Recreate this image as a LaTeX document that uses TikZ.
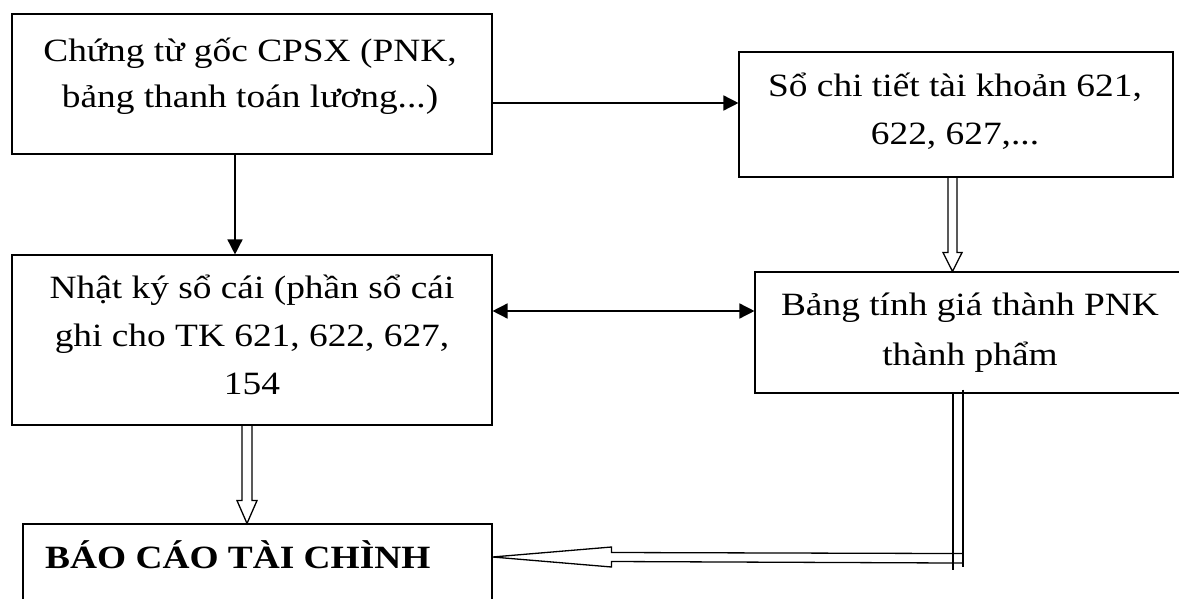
\documentclass[tikz,border=0pt]{standalone}
\usepackage{fontspec}
\setmainfont[FakeStretch=1.15]{Liberation Serif}
\usetikzlibrary{arrows.meta,calc}

\begin{document}
\begin{tikzpicture}[x=1pt,y=-1pt,
  box/.style={draw,line width=1.1pt,inner sep=0pt},
  txt/.style={anchor=base,inner sep=0pt,font=\fontsize{32.5}{40}\selectfont},
  tip/.style={Triangle[length=15pt,width=15pt]},
  arr/.style={line width=1.5pt,-{Triangle[length=15pt,width=15pt]}},
  arrboth/.style={line width=1.5pt,{Triangle[length=15pt,width=15pt]}-{Triangle[length=15pt,width=15pt]}},
  hollow/.style={line width=1.3pt,line join=miter}]
\useasboundingbox (0,0) rectangle (1179,599);
\clip (0,0) rectangle (1179,599);

% boxes
\node[box,minimum width=480pt,minimum height=140pt] (b1) at (252,84) {};
\node[box,minimum width=434pt,minimum height=125pt] (b2) at (956,114.5) {};
\node[box,minimum width=440pt,minimum height=121pt] (b3) at (975,332.5) {};
\node[box,minimum width=480pt,minimum height=170pt] (b4) at (252,340) {};
\node[box,minimum width=469pt,minimum height=116pt] (b5) at (257.5,582) {};

% texts
\node[txt] (t1a) at (250,62) {Chứng từ gốc CPSX (PNK,};
\node[txt] (t1b) at (250,108) {bảng thanh toán lương...)};
\node[txt] (t2a) at (955,97) {Sổ chi tiết tài khoản 621,};
\node[txt] (t2b) at (955,145) {622, 627,...};
\node[txt] (t3a) at (970,315) {Bảng tính giá thành PNK};
\node[txt] (t3b) at (970,365) {thành phẩm};
\node[txt] (t4a) at (252,298) {Nhật ký sổ cái (phần sổ cái};
\node[txt] (t4b) at (252,346) {ghi cho TK 621, 622, 627,};
\node[txt] (t4c) at (252,394) {154};
\node[txt,anchor=base west] (t5) at (45,568) {\textbf{BÁO CÁO TÀI CHÌNH}};

% plain arrows
\draw[arr] ([yshift=-19pt]b1.east) coordinate (p) -- (p -| b2.west);
\draw[arr] ([xshift=-17pt]b1.south) coordinate (r) -- (r |- b4.north);
\draw[arrboth] ([yshift=29pt]b4.east) coordinate (q) -- (q -| b3.west);

% hollow arrow: detail ledger -> costing table
\coordinate (ca) at ([xshift=-3.5pt]b2.south);
\draw[hollow] ($(ca)+(-4.5,0)$) -- ($(ca)+(-4.5,75)$) -- ($(ca)+(-9.5,75)$)
  -- (ca |- b3.north) -- ($(ca)+(9.5,75)$) -- ($(ca)+(4.5,75)$) -- ($(ca)+(4.5,0)$);

% hollow arrow: journal ledger -> financial report
\coordinate (cb) at ([xshift=-5pt]b4.south);
\draw[hollow] ($(cb)+(-5,0)$) -- ($(cb)+(-5,75)$) -- ($(cb)+(-10,75)$)
  -- (cb |- b5.north) -- ($(cb)+(10,75)$) -- ($(cb)+(5,75)$) -- ($(cb)+(5,0)$);

% hollow elbow arrow: costing table -> financial report
\coordinate (cc) at ([xshift=-17pt]b3.south);
\coordinate (tc) at ([yshift=25pt]b5.east);
\draw[hollow] ($(cc)+(-5,0)$) -- ($(cc)+(-5,176)$);
\draw[hollow] ($(cc)+(5,-4)$) -- ($(cc)+(5,173)$);
\draw[hollow] ($(cc)+(5,160)$) -- ($(tc)+(119,-4.5)$) -- ($(tc)+(119,-10)$)
  -- (tc) -- ($(tc)+(119,10)$) -- ($(tc)+(119,4.5)$) -- ($(cc)+(5,169.5)$);
\end{tikzpicture}
\end{document}
